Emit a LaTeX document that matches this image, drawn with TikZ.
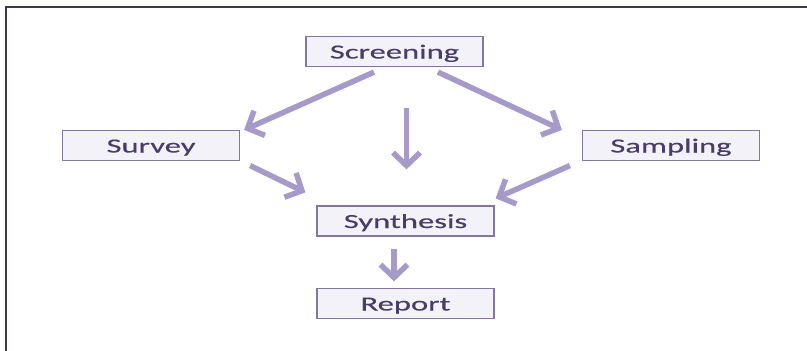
\documentclass[tikz,border=0pt]{standalone}
\usepackage{fontspec}
\setmainfont[FakeStretch=1.63, FakeBold=0.35]{Carlito}
\usetikzlibrary{arrows.meta}

\definecolor{boxline}{RGB}{132,118,162}
\definecolor{boxfill}{RGB}{244,242,249}
\definecolor{boxtext}{RGB}{72,60,104}
\definecolor{arrowcol}{RGB}{166,154,200}
\definecolor{framecol}{RGB}{62,56,78}

\begin{document}
\begin{tikzpicture}[%
        x = 1pt,
        y = -1pt,
        stagebox/.style = {
            draw = boxline,
            fill = boxfill,
            line width = 1.2pt,
            minimum width = 177pt,
            minimum height = 30pt,
            text height = 14pt,
            text depth = 0pt,
            text = boxtext,
            font = \fontsize{20}{22}\selectfont
        },
        flow/.style = {
            draw = arrowcol,
            line width = 5.5pt,
            -{Straight Barb[length = 13pt, width = 27pt]}
        }
    ]

        % Fix the size of the page.
        \useasboundingbox[fill = white] (0, 0) rectangle (807, 351);

        % Draw the frame along the top and left edges.
        \draw[framecol, line width = 2pt] (6, 351) to (6, 7) to (807, 7);

        % Place the stages.
        \node[stagebox] (screening) at (394.5, 51.5) {Screening};
        \node[stagebox] (survey)    at (151, 145.5) {Survey};
        \node[stagebox] (sampling)  at (671, 145.5) {Sampling};
        \node[stagebox] (synthesis) at (405.5, 221) {Synthesis};
        \node[stagebox] (report)    at (405.5, 303.5) {Report};

        % Arrows out of the screening stage.
        \draw[flow] ([shift = {(-20.5, 5)}]screening.south)
            to ([shift = {(4, 0)}]survey.north east);
        \draw[flow] ([shift = {(43.5, 5)}]screening.south)
            to ([shift = {(-20, 0)}]sampling.north west);
        \draw[flow] ([shift = {(12, 41)}]screening.south)
            to ([shift = {(1, -36)}]synthesis.north);

        % Arrows into the synthesis stage.
        \draw[flow] ([shift = {(10, 4.5)}]survey.south east)
            to ([shift = {(-11, -13)}]synthesis.north west);
        \draw[flow] ([shift = {(-12, 4.5)}]sampling.south west)
            to ([shift = {(1, -7)}]synthesis.north east);

        % Last step down to the report.
        \draw[flow] ([shift = {(-11.5, 12)}]synthesis.south)
            to ([shift = {(-11.5, -6.5)}]report.north);
    \end{tikzpicture}
\end{document}
